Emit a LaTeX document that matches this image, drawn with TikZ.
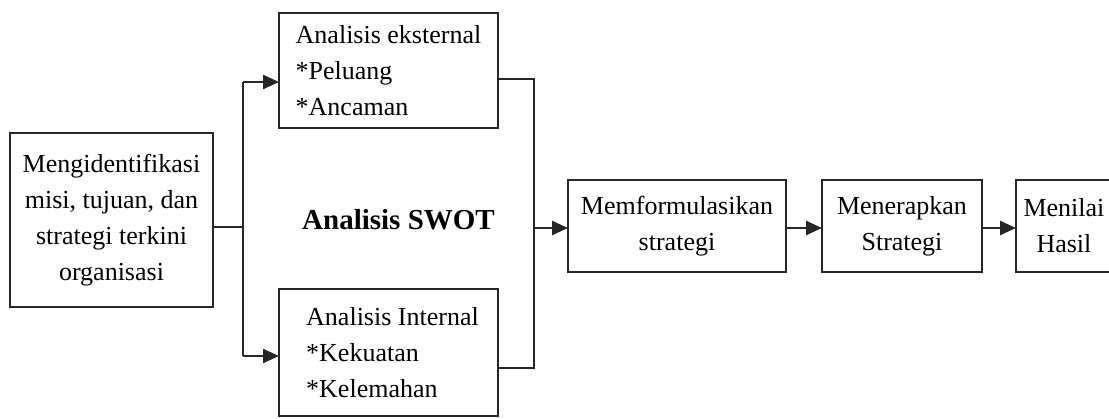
\documentclass[tikz,border=0pt]{standalone}
\usepackage{fontspec}
\setmainfont{Liberation Serif}
\usetikzlibrary{arrows.meta}
\tikzset{
  box/.style={draw=black!85, line width=1.2pt, inner sep=0pt, outer sep=0pt, align=center, font=\fontsize{13}{18}\selectfont},
  link/.style={draw=black!85, line width=1.2pt},
  arr/.style={link, -{Triangle[length=8pt,width=7pt]}}
}
\begin{document}
\begin{tikzpicture}[x=0.5pt,y=-0.5pt]
        \useasboundingbox (0,0) rectangle (1109,418);
        % starting point
        \node[box, minimum width=101.5pt, minimum height=87pt] (ident) at (111.5,220) {Mengidentifikasi\\misi, tujuan, dan\\strategi terkini\\organisasi};

        % swot
        \node[box, align=left, minimum width=109.5pt, minimum height=57.5pt] (ekst) at (388.5,70.5) {Analisis eksternal\\*Peluang\\*Ancaman};
        \node[box, align=left, minimum width=109.5pt, minimum height=63.5pt] (intern) at (388.5,352.5) {\hspace*{4pt}Analisis Internal\\\hspace*{4pt}*Kekuatan\\\hspace*{4pt}*Kelemahan};
        \node[font=\bfseries\fontsize{14.5}{17}\selectfont, inner sep=0pt] (swot) at (398.5,220) {Analisis SWOT};

        % next steps
        \node[box, minimum width=109pt, minimum height=46pt] (formul) at (677,226) {Memformulasikan\\strategi};
        \node[box, minimum width=80pt, minimum height=46pt] (terap) at (902,226) {Menerapkan\\Strategi};
        \node[box, minimum width=48pt, minimum height=46pt] (nilai) at (1064,226) {Menilai\\Hasil};

        % junctions
        \coordinate (split) at (243,227);
        \coordinate (upbr) at (243,82);
        \coordinate (dnbr) at (243,356);
        \coordinate (eout) at (534,79);
        \coordinate (iout) at (534,368);
        \coordinate (merge) at (534,228);

        \draw[link] (ident.east |- split) -- (split);
        \draw[link] (upbr) -- (dnbr);
        \draw[arr] (upbr) -- (upbr -| ekst.west);
        \draw[arr] (dnbr) -- (dnbr -| intern.west);
        \draw[link] (eout -| ekst.east) -- (eout) -- (iout) -- (iout -| intern.east);
        \draw[arr] (merge) -- (merge -| formul.west);
        \draw[arr] (formul.east |- merge) -- (terap.west |- merge);
        \draw[arr] (terap.east |- merge) -- (nilai.west |- merge);
\end{tikzpicture}
\end{document}
